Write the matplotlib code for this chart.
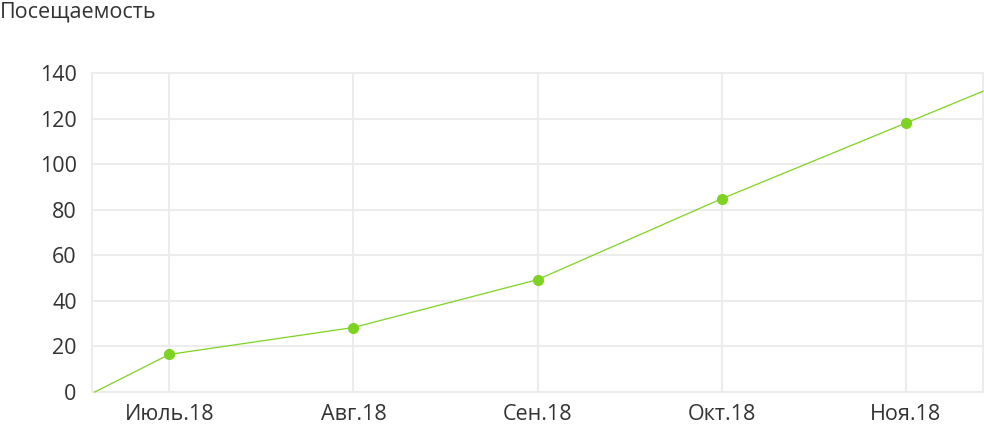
import matplotlib.pyplot as plt

plt.rcParams['font.family'] = ['Open Sans', 'DejaVu Sans']

months = ["Июль.18", "Авг.18", "Сен.18", "Окт.18", "Ноя.18"]
visits = [16.5, 28.3, 49.3, 84.8, 118.0]
# the line runs on past the first and last month to the plot edges
lead_in = 0
lead_out = 132
y_ticks = [0, 20, 40, 60, 80, 100, 120, 140]

green = "#7ed321"
grid = "#ececec"
text = "#333333"

fig = plt.figure(figsize=(9.84, 4.25), dpi=100)
ax = fig.add_axes([92 / 984, 33 / 425, 891 / 984, 319 / 425])

xlim = (-0.42, 4.42)
ax.set_xlim(*xlim)
ax.set_ylim(0, 140)

xs = list(range(len(months)))
ax.plot([xlim[0] + 0.015] + xs + [xlim[1]], [lead_in] + visits + [lead_out],
        color=green, linewidth=0.9, zorder=3, clip_on=False)
ax.plot(xs, visits, 'o', color=green, markersize=7, zorder=4)

ax.set_xticks(xs)
ax.set_xticklabels(months)
ax.set_yticks(y_ticks)
ax.grid(True, color=grid, linewidth=1.5)
ax.set_axisbelow(True)
for side, sp in ax.spines.items():
    sp.set_color(grid)
    sp.set_linewidth(1.5)
ax.tick_params(length=0, labelsize=15.5, colors=text, pad=11)
ax.tick_params(axis='x', pad=9)

fig.text(0.0, 1 - 12 / 425, "Посещаемость", fontsize=15.5, color=text,
         ha='left', va='center')

fig.savefig("out.png", dpi=100)
